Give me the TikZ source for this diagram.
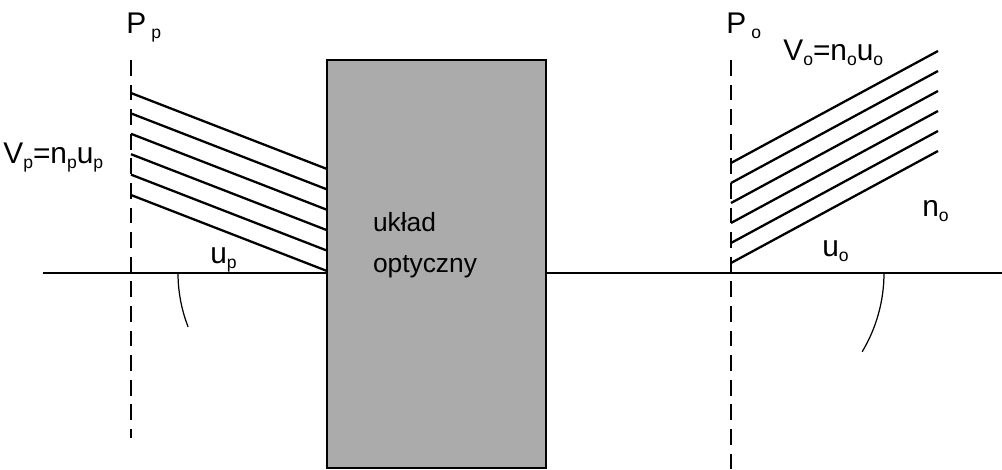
\documentclass[tikz,border=0pt]{standalone}
\usepackage{fontspec}
\setmainfont{Liberation Sans}
\newcommand{\sbx}[1]{\raisebox{-3pt}{\fontsize{10}{12}\selectfont #1}}
\begin{document}
\begin{tikzpicture}[x=0.02cm,y=-0.02cm,
  ln/.style={line width=1.3pt},
  dsh/.style={line width=1.3pt,dash pattern=on 9pt off 5pt},
  lbl/.style={inner sep=0pt,font=\fontsize{17}{20}\selectfont}]
\useasboundingbox (0,0) rectangle (1002,470);
\node[draw,line width=1.3pt,fill=black!33,minimum width=219*0.02cm,minimum height=408*0.02cm,inner sep=0pt] (box) at (436.5,264) {};
\node[lbl,align=left,font=\fontsize{15}{23}\selectfont] (txt) at (425,245) {układ\\ optyczny};
\coordinate (a0) at (43,273); \coordinate (a1) at (box.west|-a0);
\coordinate (a2) at (box.east|-a0); \coordinate (a3) at (1002,273);
\draw[ln] (a0) -- (a1); \draw[ln] (a2) -- (a3);
\coordinate (d1) at (131,60); \coordinate (d2) at (131,438);
\coordinate (d3) at (731,60); \coordinate (d4) at (731,470);
\draw[dsh] (d1) -- (d2); \draw[dsh] (d3) -- (d4);
\foreach \i in {0,...,5}{
  \coordinate (ls\i) at (131,{93+20.4*\i}); \coordinate (le\i) at (327,{169+20.4*\i});
  \draw[ln] (ls\i) -- (le\i);
  \coordinate (rs\i) at (731,{163+20*\i}); \coordinate (re\i) at (938,{51+20*\i});
  \draw[ln] (rs\i) -- (re\i);
}
\draw[line width=0.7pt] (178,273) arc[start angle=180,end angle={180-21.2},radius=149];
\draw[line width=0.7pt] (884,273) arc[start angle=0,end angle=31,radius=153];
\node[lbl,anchor=base west] (pp) at (126,33) {P\,\sbx{p}};
\node[lbl,anchor=base west] (po) at (726,33) {P\,\sbx{o}};
\node[lbl,anchor=base west] (vp) at (3,163) {V\sbx{p}=n\sbx{p}u\sbx{p}};
\node[lbl,anchor=base west] (vo) at (783,60) {V\sbx{o}=n\sbx{o}u\sbx{o}};
\node[lbl,anchor=base west] (up) at (210,263) {u\sbx{p}};
\node[lbl,anchor=base west] (uo) at (822,256) {u\sbx{o}};
\node[lbl,anchor=base west] (no) at (922,216) {n\sbx{o}};
\end{tikzpicture}
\end{document}
